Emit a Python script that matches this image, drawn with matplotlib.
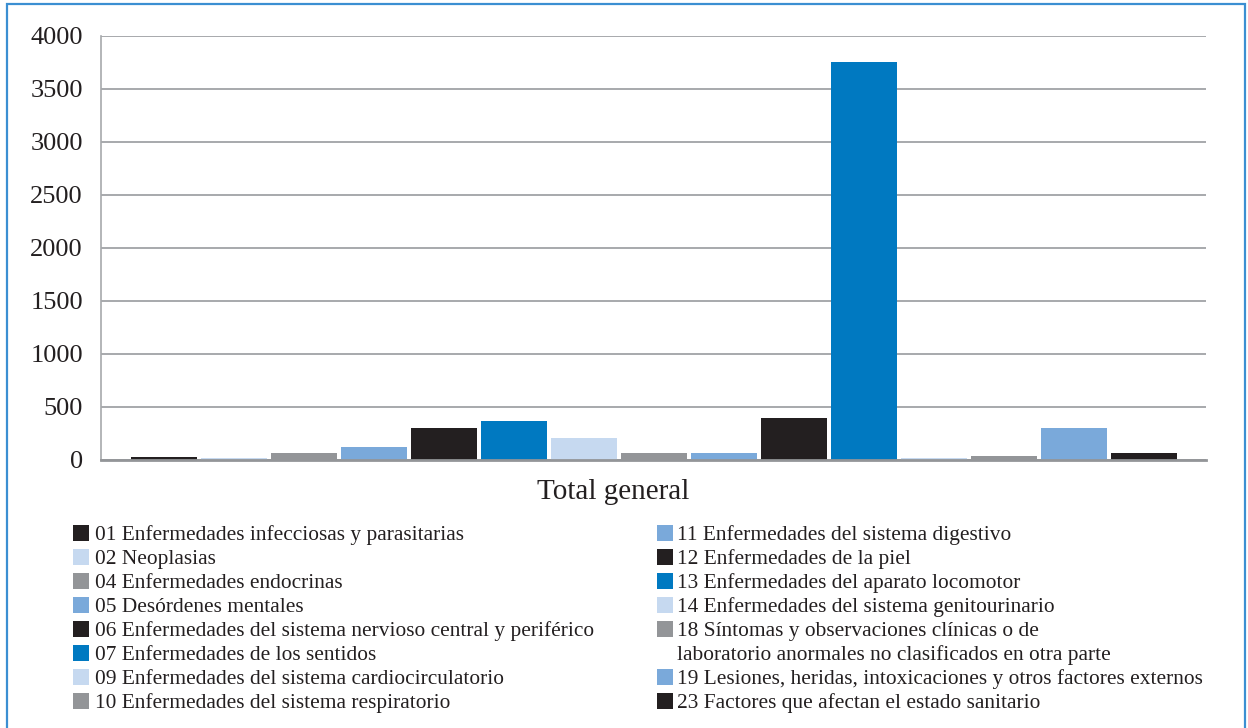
import numpy as np
import matplotlib
matplotlib.use("Agg")
from matplotlib import pyplot as plt
from matplotlib.patches import Rectangle

# data
categories = [
    "01 Enfermedades infecciosas y parasitarias",
    "02 Neoplasias",
    "04 Enfermedades endocrinas",
    "05 Desórdenes mentales",
    "06 Enfermedades del sistema nervioso central y periférico",
    "07 Enfermedades de los sentidos",
    "09 Enfermedades del sistema cardiocirculatorio",
    "10 Enfermedades del sistema respiratorio",
    "11 Enfermedades del sistema digestivo",
    "12 Enfermedades de la piel",
    "13 Enfermedades del aparato locomotor",
    "14 Enfermedades del sistema genitourinario",
    "18 Síntomas y observaciones clínicas o de\nlaboratorio anormales no clasificados en otra parte",
    "19 Lesiones, heridas, intoxicaciones y otros factores externos",
    "23 Factores que afectan el estado sanitario",
]
values = [25, 15, 65, 120, 300, 365, 205, 65, 65, 400, 3750, 18, 37, 300, 65]
y_ticks = [0, 500, 1000, 1500, 2000, 2500, 3000, 3500, 4000]
group_label = "Total general"

BLACK = "#231f20"
LIGHT = "#c6d9f0"
GREY = "#939598"
MID = "#7aa9da"
BLUE = "#0079c1"
colors = [BLACK, LIGHT, GREY, MID, BLACK, BLUE, LIGHT, GREY, MID,
          BLACK, BLUE, LIGHT, GREY, MID, BLACK]

plt.rcParams["font.family"] = ["Liberation Serif", "DejaVu Serif"]

W, H = 1248, 728
fig = plt.figure(figsize=(W / 100, H / 100), dpi=100)

def fx(px):
    return px / W

def fy(py):
    return 1 - py / H

# outer blue frame (open at the bottom, cut by the image edge)
fig.patches.append(Rectangle((fx(7), fy(740)), fx(1245) - fx(7), fy(4) - fy(740),
                             transform=fig.transFigure, fill=False,
                             edgecolor="#3b8fd2", linewidth=1.6, clip_on=False))

ax = fig.add_axes([fx(101), fy(460), fx(1206) - fx(101), fy(35.7) - fy(460)])
x = np.arange(len(values))
ax.bar(x, values, width=0.94, color=colors, zorder=3)
ax.set_xlim(-0.9, len(values) - 1 + 0.886)
ax.set_ylim(0, 4000)
ax.set_yticks(y_ticks)
ax.set_yticklabels([str(t) for t in y_ticks], fontsize=19, color=BLACK)
ax.tick_params(axis="y", length=0, pad=13)
ax.set_xticks([])
ax.yaxis.grid(True, color="#a7a9ac", linewidth=1.4, zorder=0)
for s in ["top", "right"]:
    ax.spines[s].set_visible(False)
ax.spines["left"].set_color("#a7a9ac")
ax.spines["left"].set_linewidth(1.2)
ax.spines["bottom"].set_color("#939598")
ax.spines["bottom"].set_linewidth(2.0)
ax.spines["bottom"].set_zorder(4)

fig.text(fx(613), fy(489), group_label, fontsize=21, color=BLACK,
         ha="center", va="center_baseline")

# legend, two columns, 8 lines each
row0 = 533
step = 24
col_sq = [73, 657]
col_tx = [95, 677]
line = 0
col = 0
for name, c in zip(categories, colors):
    if col == 0 and line >= 8:
        col = 1
        line = 0
    yc = row0 + line * step
    fig.patches.append(Rectangle((fx(col_sq[col]), fy(yc + 8)), fx(16), 16 / H,
                                 transform=fig.transFigure, facecolor=c,
                                 edgecolor="none"))
    for part in name.split("\n"):
        fig.text(fx(col_tx[col]), fy(row0 + line * step), part, fontsize=15.4,
                 color=BLACK, ha="left", va="center_baseline")
        line += 1

fig.savefig("out.png", dpi=100)
